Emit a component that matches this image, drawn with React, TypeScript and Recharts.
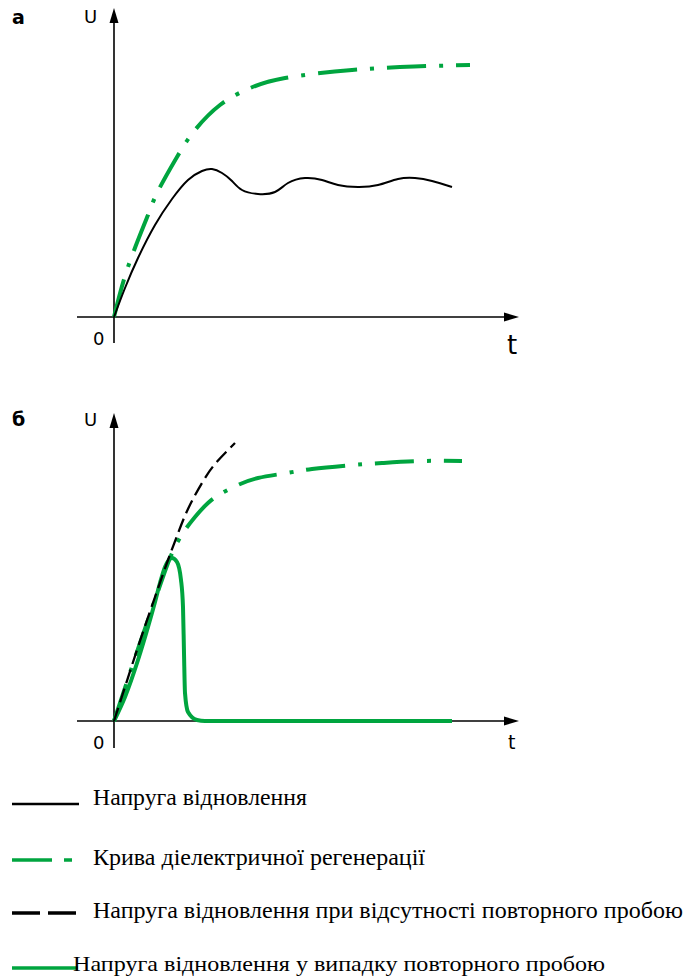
import React from "react";
import { LineChart, Line, XAxis, YAxis, ReferenceLine } from "recharts";

// ---- Chart "а" data (t and U in drawing units) ----
const aRecoveryT = [0, 11, 24, 41, 58, 74, 88, 98, 108, 118, 128, 144, 161, 174, 191, 208, 224, 244, 264, 284, 301, 318, 338];
const aRecoveryU = [0, 29, 59, 92, 118, 137, 146, 148, 144, 136, 127, 123, 125, 134, 139, 137, 132, 130, 132, 138, 139, 136, 130];
const aDielectricT = [0, 14, 34, 44, 63, 81, 106, 134, 171, 238, 300, 356];
const aDielectricU = [0, 50, 102, 126, 160, 187, 212, 228, 239, 247, 250.5, 252];

// ---- Chart "б" data ----
const bNoRestrikeT = [0, 11, 24, 41, 54, 63, 74, 88, 101, 121];
const bNoRestrikeU = [0, 34, 74, 124, 161, 185, 212, 238, 257, 278];
const bDielectricT = [0, 11, 24, 41, 54, 63, 71, 81, 94, 108, 124, 144, 173, 198, 239, 268, 308, 348];
const bDielectricU = [0, 33, 72, 121, 158, 178, 191, 204, 218, 228, 236, 243, 248, 252, 256, 258, 260, 260];
const bRestrikeT = [0, 11, 24, 34, 41, 46, 51, 58, 63, 67, 69, 70, 71, 74, 83, 91, 338];
const bRestrikeU = [0, 24, 61, 94, 119, 138, 154, 163, 159, 141, 114, 68, 28, 9, 1, 0, 0];

// ---- Labels ----
const legendLabels = [
  "Напруга відновлення",
  "Крива діелектричної регенерації",
  "Напруга відновлення при відсутності повторного пробою",
  "Напруга відновлення у випадку повторного пробою",
];
const panelLabels = ["а", "б"];

const GREEN = "#00a53f";
const DASH_DOT = "39 13 4 13";

const toPts = (t: number[], u: number[]) => t.map((x, i) => ({ t: x, u: u[i] }));

const ArrowLine = (props: any) => {
  const { x1, y1, x2, y2 } = props;
  const dx = x2 - x1;
  const dy = y2 - y1;
  const len = Math.hypot(dx, dy) || 1;
  const ux = dx / len;
  const uy = dy / len;
  const L = 15;
  const W = 4.5;
  const bx = x2 - ux * L;
  const by = y2 - uy * L;
  const px = -uy;
  const py = ux;
  return (
    <g>
      <line x1={x1} y1={y1} x2={bx} y2={by} stroke="#000" strokeWidth={1.6} />
      <polygon
        points={`${x2},${y2} ${bx + px * W},${by + py * W} ${bx - px * W},${by - py * W}`}
        fill="#000"
      />
    </g>
  );
};

const sansStyle = { fontFamily: "'DejaVu Sans', Verdana, sans-serif" };
const serifStyle = { fontFamily: "'Liberation Serif', 'Times New Roman', Times, serif" };

export default function App() {
  const W = 687;
  return (
    <div style={{ position: "absolute", left: 0, top: 0, width: W, height: 978, background: "#fff" }}>
      {/* Chart а */}
      <div style={{ position: "absolute", left: 0, top: 0 }}>
        <LineChart width={W} height={370} margin={{ left: 77, right: W - 519, top: 8, bottom: 27 }}>
          <XAxis type="number" dataKey="t" domain={[-37, 405]} allowDataOverflow hide />
          <YAxis type="number" dataKey="u" domain={[-26, 309]} allowDataOverflow hide />
          <ReferenceLine segment={[{ x: -37, y: 0 }, { x: 405, y: 0 }]} ifOverflow="visible" shape={ArrowLine} />
          <ReferenceLine segment={[{ x: 0, y: -26 }, { x: 0, y: 309 }]} ifOverflow="visible" shape={ArrowLine} />
          <Line data={toPts(aDielectricT, aDielectricU)} dataKey="u" type="natural" dot={false} activeDot={false}
            stroke={GREEN} strokeWidth={4} strokeDasharray={DASH_DOT} isAnimationActive={false} />
          <Line data={toPts(aRecoveryT, aRecoveryU)} dataKey="u" type="natural" dot={false} activeDot={false}
            stroke="#000" strokeWidth={2} isAnimationActive={false} />
        </LineChart>
      </div>
      {/* Chart б */}
      <div style={{ position: "absolute", left: 0, top: 400 }}>
        <LineChart width={W} height={370} margin={{ left: 77, right: W - 519, top: 13, bottom: 22 }}>
          <XAxis type="number" dataKey="t" domain={[-37, 405]} allowDataOverflow hide />
          <YAxis type="number" dataKey="u" domain={[-27, 308]} allowDataOverflow hide />
          <ReferenceLine segment={[{ x: -37, y: 0 }, { x: 405, y: 0 }]} ifOverflow="visible" shape={ArrowLine} />
          <ReferenceLine segment={[{ x: 0, y: -27 }, { x: 0, y: 308 }]} ifOverflow="visible" shape={ArrowLine} />
          <Line data={toPts(bDielectricT, bDielectricU)} dataKey="u" type="natural" dot={false} activeDot={false}
            stroke={GREEN} strokeWidth={4} strokeDasharray={DASH_DOT} isAnimationActive={false} />
          <Line data={toPts(bRestrikeT, bRestrikeU)} dataKey="u" type="monotone" dot={false} activeDot={false}
            stroke={GREEN} strokeWidth={4} isAnimationActive={false} />
          <Line data={toPts(bNoRestrikeT, bNoRestrikeU)} dataKey="u" type="natural" dot={false} activeDot={false}
            stroke="#000" strokeWidth={2.3} strokeDasharray="14 6" isAnimationActive={false} />
        </LineChart>
      </div>
      {/* Text labels and legend */}
      <svg width={W} height={978} style={{ position: "absolute", left: 0, top: 0, pointerEvents: "none" }}>
        <text x={12} y={24} style={sansStyle} fontWeight="bold" fontSize={19}>{panelLabels[0]}</text>
        <text x={84} y={23} style={sansStyle} fontSize={18}>U</text>
        <text x={93} y={345} style={sansStyle} fontSize={18}>0</text>
        <text x={507} y={354} style={sansStyle} fontSize={26}>t</text>

        <text x={12} y={426} style={sansStyle} fontWeight="bold" fontSize={19}>{panelLabels[1]}</text>
        <text x={84} y={426} style={sansStyle} fontSize={18}>U</text>
        <text x={93} y={749} style={sansStyle} fontSize={18}>0</text>
        <text x={508} y={749} style={sansStyle} fontSize={19}>t</text>

        <line x1={12} y1={804} x2={79} y2={804} stroke="#000" strokeWidth={2.5} />
        <text x={93} y={805} style={serifStyle} fontSize={23} textLength={214} lengthAdjust="spacingAndGlyphs">{legendLabels[0]}</text>

        <line x1={12} y1={860} x2={52} y2={860} stroke={GREEN} strokeWidth={3.5} />
        <line x1={64} y1={860} x2={72} y2={860} stroke={GREEN} strokeWidth={3.5} />
        <text x={93} y={865} style={serifStyle} fontSize={23} textLength={332} lengthAdjust="spacingAndGlyphs">{legendLabels[1]}</text>

        <line x1={12} y1={913} x2={40} y2={913} stroke="#000" strokeWidth={3.5} />
        <line x1={48} y1={913} x2={76} y2={913} stroke="#000" strokeWidth={3.5} />
        <text x={93} y={918} style={serifStyle} fontSize={23} textLength={590} lengthAdjust="spacingAndGlyphs">{legendLabels[2]}</text>

        <line x1={12} y1={968} x2={78} y2={968} stroke={GREEN} strokeWidth={3.5} />
        <text x={73} y={971} style={serifStyle} fontSize={22} textLength={532} lengthAdjust="spacingAndGlyphs">{legendLabels[3]}</text>
      </svg>
    </div>
  );
}
